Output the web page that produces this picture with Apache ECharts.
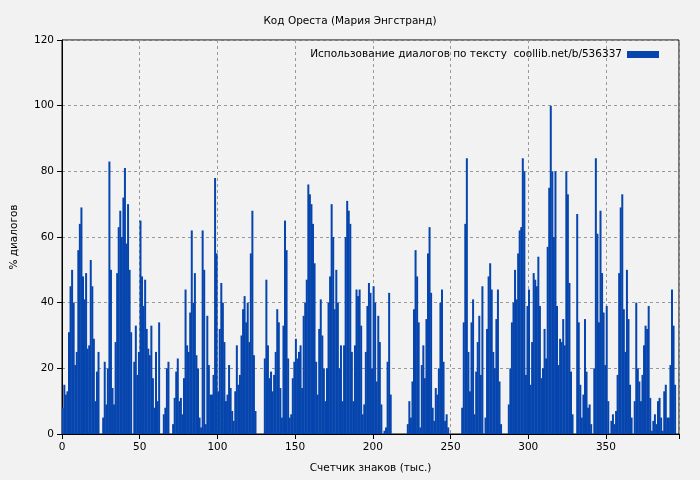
<!DOCTYPE html>
<html>
<head>
<meta charset="utf-8">
<script src="https://cdn.jsdelivr.net/npm/echarts@6/dist/echarts.min.js"></script>
<style>
  body { margin: 0; background: #f2f2f2; }
  #chart { width: 700px; height: 480px; }
</style>
</head>
<body>
<div id="chart"></div>
<script>
// % диалогов на каждую тысячу знаков, начиная с 0
var part1 = [8,15,12,13,31,45,50,40,21,25, 56,64,69,48,41,49,26,27,53,45,
  29,10,19,25,0,0,5,22,9,20, 83,50,14,9,28,49,63,68,60,72,
  81,58,70,50,31,0,22,33,18,25, 65,48,39,47,32,26,24,33,17,8,
  25,10,34,0,0,6,8,20,22,0, 0,3,11,19,23,10,11,6,17,44,
  27,25,37,62,40,49,24,20,5,2, 62,50,3,36,21,12,12,18,78,55]
var part2 = [13,32,46,40,28,10,12,21,14,7, 4,13,27,15,18,30,38,42,34,40,
  28,55,68,24,7,0,0,0,0,0, 23,47,27,17,19,13,18,25,38,34,
  14,5,33,65,56,23,5,6,17,22, 29,23,25,27,14,36,40,47,76,73,
  70,64,52,22,12,32,41,30,20,10, 20,40,48,70,60,38,50,40,20,27,
  10,27,60,71,68,64,25,10,27,44, 42,44,33,6,9,25,39,46,43,20]
var part3 = [45,40,16,36,28,9,0,1,2,22, 43,12,0,0,0,0,0,0,0,0,
  0,0,3,10,5,16,38,56,48,34, 2,21,27,17,35,55,63,43,8,4,
  14,12,20,40,44,22,4,6,2,0, 0,0,0,0,0,0,0,8,34,64,
  84,25,13,34,41,6,19,28,36,18, 45,0,5,32,48,52,44,25,20,35,
  44,16,3,0,0,0,0,9,20,34, 40,50,41,55,62,63,84,80]
var part4 = [18,39,44,15,28,49,47,45,54,39, 17,20,32,23,57,75,100,80,60,80,
  39,21,29,28,35,27,80,73,46,19, 6,0,0,67,34,15,5,12,35,19,
  8,9,3,0,20,84,61,34,68,49, 37,21,39,10,0,4,6,3,7,18,
  49,69,73,38,25,50,35,15,5,0, 10,40,20,16,10,18,27,33,32,39,
  11,1,4,6,3,10,11,5,1,13, 15,5,5,21,44,33,15]
var shares = part1.concat(part2, part3, part4)
var xTicks = [0, 50, 100, 150, 200, 250, 300, 350]
var seriesName = 'Использование диалогов по тексту  coollib.net/b/536337'

var points = shares.map(function (v, i) { return [i + 0.5, v] })

var myChart = echarts.init(document.getElementById('chart'))
myChart.setOption({
  backgroundColor: '#f2f2f2',
  animation: false,
  textStyle: { fontFamily: 'DejaVu Sans', color: '#000' },
  title: {
    text: 'Код Ореста (Мария Энгстранд)',
    left: 'center', top: 11,
    textStyle: { fontSize: 10.5, fontWeight: 'normal', color: '#000' }
  },
  legend: {
    right: 36, top: 44, align: 'right',
    itemWidth: 32, itemHeight: 7, itemGap: 6,
    icon: 'rect',
    textStyle: { fontSize: 10.5, color: '#000' },
    data: [seriesName]
  },
  grid: { left: 62, right: 21, top: 40, bottom: 46, show: true, borderColor: '#000', borderWidth: 1 },
  xAxis: {
    type: 'value', min: 0, max: 397, interval: 50,
    name: 'Счетчик знаков (тыс.)', nameLocation: 'middle', nameGap: 29,
    nameTextStyle: { fontSize: 10.5 },
    axisLine: { lineStyle: { color: '#000' } },
    axisTick: { lineStyle: { color: '#000' } },
    axisLabel: { fontSize: 10.5, color: '#000',
      formatter: function (v) { return xTicks.indexOf(v) >= 0 ? v : '' } },
    splitLine: { lineStyle: { color: '#999', type: [3, 3] } }
  },
  yAxis: {
    type: 'value', min: 0, max: 120, interval: 20,
    name: '% диалогов', nameLocation: 'middle', nameGap: 42,
    nameTextStyle: { fontSize: 10.5 },
    axisLine: { show: true, lineStyle: { color: '#000' } },
    axisTick: { show: true, lineStyle: { color: '#000' } },
    axisLabel: { fontSize: 10.5, color: '#000' },
    splitLine: { lineStyle: { color: '#999', type: [3, 3] } }
  },
  series: [{
    name: seriesName,
    type: 'bar',
    data: points,
    barWidth: 2,
    itemStyle: { color: '#0645ad' }
  }]
})
</script>
</body>
</html>
